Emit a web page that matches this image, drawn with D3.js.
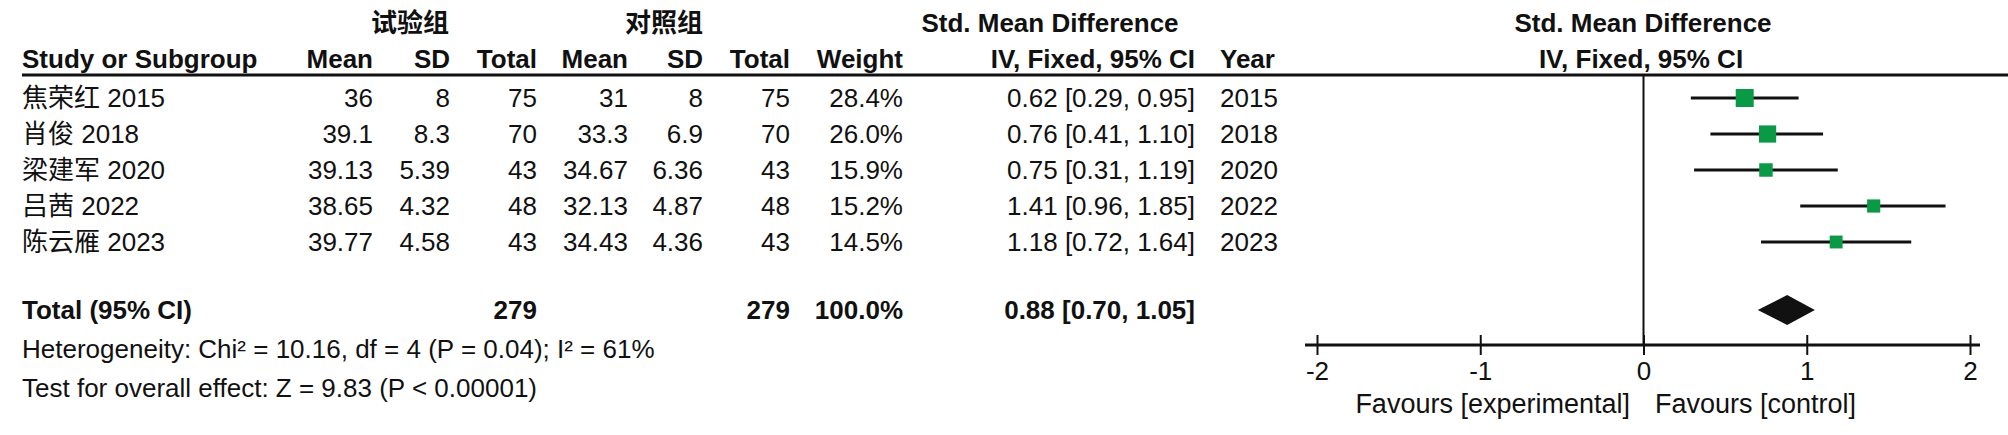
<!DOCTYPE html>
<html><head><meta charset="utf-8">
<script src="https://cdn.jsdelivr.net/npm/d3@7"></script>
<style>
html,body{margin:0;padding:0;background:#fff;}
svg{display:block;}
text{font-family:"Liberation Sans",Arial,"Noto Sans CJK SC",sans-serif;fill:#111;}
</style></head>
<body>
<svg id="c" width="2008" height="435"></svg>
<script>
// ---- data ----
const studies   = ["焦荣红 2015","肖俊 2018","梁建军 2020","吕茜 2022","陈云雁 2023"];
const expMean   = [36, 39.1, 39.13, 38.65, 39.77];
const expSD     = [8, 8.3, 5.39, 4.32, 4.58];
const expTotal  = [75, 70, 43, 48, 43];
const ctlMean   = [31, 33.3, 34.67, 32.13, 34.43];
const ctlSD     = [8, 6.9, 6.36, 4.87, 4.36];
const ctlTotal  = [75, 70, 43, 48, 43];
const weights   = [28.4, 26.0, 15.9, 15.2, 14.5];
const smd       = [0.62, 0.76, 0.75, 1.41, 1.18];
const ciLow     = [0.29, 0.41, 0.31, 0.96, 0.72];
const ciHigh    = [0.95, 1.10, 1.19, 1.85, 1.64];
const years     = [2015, 2018, 2020, 2022, 2023];
const total     = {exp: 279, ctl: 279, weight: 100.0, smd: 0.88, lo: 0.70, hi: 1.05};
const axisTicks = [-2, -1, 0, 1, 2];
const hetText   = "Heterogeneity: Chi² = 10.16, df = 4 (P = 0.04); I² = 61%";
const testText  = "Test for overall effect: Z = 9.83 (P < 0.00001)";

// ---- layout ----
const svg = d3.select("#c");
const FS = 26;
const col = {name:22, m1:373, s1:450, t1:537, m2:628, s2:703, t2:790, w:903, ci:1195, yr:1220};
const rowY = d3.scalePoint().domain(d3.range(studies.length)).range([107, 251]);
const x = d3.scaleLinear().domain([-2, 2]).range([1317, 1970]);
const green = "#0a9a45";

function txt(xp, yp, s, anchor, bold, fs){
  return svg.append("text").attr("x", xp).attr("y", yp).attr("font-size", fs || FS)
    .attr("text-anchor", anchor || "start").attr("font-weight", bold ? "bold" : "normal").text(s);
}

// headers
txt(410, 32, "试验组", "middle", true);
txt(664, 32, "对照组", "middle", true);
txt(1050, 32, "Std. Mean Difference", "middle", true);
txt(1643, 32, "Std. Mean Difference", "middle", true);
const H2 = 68;
txt(col.name, H2, "Study or Subgroup", "start", true);
txt(col.m1, H2, "Mean", "end", true);
txt(col.s1, H2, "SD", "end", true);
txt(col.t1, H2, "Total", "end", true);
txt(col.m2, H2, "Mean", "end", true);
txt(col.s2, H2, "SD", "end", true);
txt(col.t2, H2, "Total", "end", true);
txt(col.w, H2, "Weight", "end", true);
txt(col.ci, H2, "IV, Fixed, 95% CI", "end", true);
txt(col.yr, H2, "Year", "start", true);
txt(1641, H2, "IV, Fixed, 95% CI", "middle", true);

svg.append("line").attr("x1", col.name).attr("x2", 2008).attr("y1", 75).attr("y2", 75)
  .attr("stroke", "#111").attr("stroke-width", 3);

// rows
studies.forEach((s, i) => {
  const y = rowY(i);
  txt(col.name, y, s);
  txt(col.m1, y, String(expMean[i]), "end");
  txt(col.s1, y, String(expSD[i]), "end");
  txt(col.t1, y, String(expTotal[i]), "end");
  txt(col.m2, y, String(ctlMean[i]), "end");
  txt(col.s2, y, String(ctlSD[i]), "end");
  txt(col.t2, y, String(ctlTotal[i]), "end");
  txt(col.w, y, weights[i].toFixed(1) + "%", "end");
  txt(col.ci, y, `${smd[i].toFixed(2)} [${ciLow[i].toFixed(2)}, ${ciHigh[i].toFixed(2)}]`, "end");
  txt(col.yr, y, String(years[i]));
});

// total row
const TY = 319;
txt(col.name, TY, "Total (95% CI)", "start", true);
txt(col.t1, TY, String(total.exp), "end", true);
txt(col.t2, TY, String(total.ctl), "end", true);
txt(col.w, TY, total.weight.toFixed(1) + "%", "end", true);
txt(col.ci, TY, `${total.smd.toFixed(2)} [${total.lo.toFixed(2)}, ${total.hi.toFixed(2)}]`, "end", true);
txt(col.name, 358, hetText);
txt(col.name, 397, testText);

// plot
const AXY = 345;
svg.append("line").attr("x1", x(0)).attr("x2", x(0)).attr("y1", 75).attr("y2", AXY)
  .attr("stroke", "#111").attr("stroke-width", 2);

const side = d3.scaleSqrt().domain([0, 28.4]).range([0, 18]);
studies.forEach((s, i) => {
  const cy = rowY(i) - 9;
  svg.append("line").attr("x1", x(ciLow[i])).attr("x2", x(ciHigh[i])).attr("y1", cy).attr("y2", cy)
    .attr("stroke", "#111").attr("stroke-width", 3);
  const w = side(weights[i]);
  svg.append("rect").attr("x", x(smd[i]) - w/2).attr("y", cy - w/2).attr("width", w).attr("height", w)
    .attr("fill", green);
});

// diamond
const DY = TY - 9, DH = 15;
svg.append("path")
  .attr("d", `M${x(total.lo)},${DY} L${x(total.smd)},${DY-DH} L${x(total.hi)},${DY} L${x(total.smd)},${DY+DH} Z`)
  .attr("fill", "#111");

// axis
const axis = d3.axisBottom(x).tickValues(axisTicks).tickFormat(d => String(d)).tickSizeOuter(0).tickSizeInner(10).tickPadding(6);
const g = svg.append("g").attr("transform", `translate(0,${AXY})`).call(axis);
g.select(".domain").remove();
g.append("line").attr("x1", x(-2) - 12).attr("x2", x(2) + 10).attr("y1", 0).attr("y2", 0)
  .attr("stroke", "#111").attr("stroke-width", 3);
g.selectAll(".tick line").attr("y1", -10).attr("y2", 10).attr("stroke", "#111").attr("stroke-width", 2);
g.selectAll(".tick text").attr("font-size", FS).attr("fill", "#111")
  .attr("font-family", '"Liberation Sans",Arial,sans-serif').attr("y", 35).attr("dy", null);
txt(1630, 413, "Favours [experimental]", "end", false, 27);
txt(1655, 413, "Favours [control]", "start", false, 27);
</script>
</body></html>
